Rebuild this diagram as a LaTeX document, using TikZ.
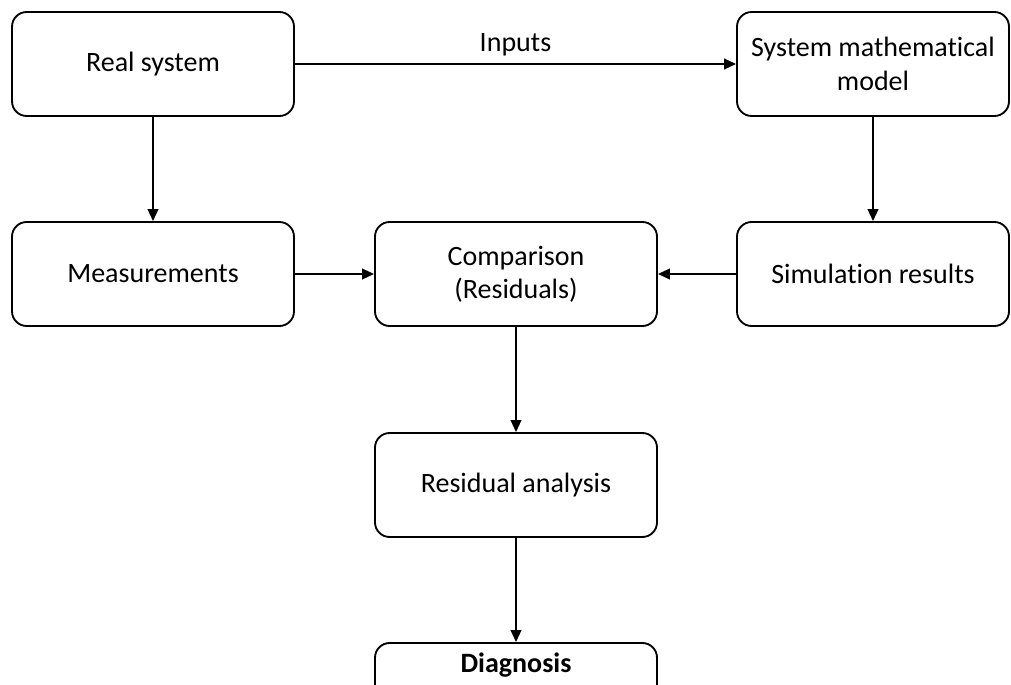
\documentclass[tikz,border=0pt]{standalone}
\usepackage{fontspec}
\setmainfont{Carlito}[Ligatures=NoCommon]
\usetikzlibrary{arrows.meta}

\begin{document}
\begin{tikzpicture}[x=0.75pt, y=-0.75pt,
        block/.style={draw, line width=1.4pt, rounded corners=11pt, align=center,
            minimum width=211.5pt, minimum height=78pt, inner sep=2pt,
            font=\fontsize{21}{25}\selectfont},
        wideblock/.style={block, minimum width=204pt},
        link/.style={line width=1.4pt, -{Triangle[length=9pt, width=8pt]}}]
        % Frame
        \useasboundingbox (0,0) rectangle (1011,685);

        % Blocks
        \node[block] (real) at (153, 64) {Real system};
        \node[wideblock] (model) at (873, 64) {System mathematical\\model};
        \node[block] (meas) at (153, 274) {Measurements};
        \node[block] (comp) at (516, 274) {Comparison\\(Residuals)};
        \node[wideblock] (sim) at (873, 274) {Simulation results};
        \node[block] (resid) at (516, 485) {Residual analysis};
        \node[block, text height=14pt, text depth=48pt] (diag) at (516, 695) {\textbf{Diagnosis}};

        % Connectors
        \draw[link] (real) -- node[midway, above=2pt, font=\fontsize{21}{25}\selectfont] {Inputs} (model);
        \draw[link] (real) -- (meas);
        \draw[link] (model) -- (sim);
        \draw[link] (meas) -- (comp);
        \draw[link] (sim) -- (comp);
        \draw[link] (comp) -- (resid);
        \draw[link] (resid) -- (diag);

    \end{tikzpicture}
\end{document}
